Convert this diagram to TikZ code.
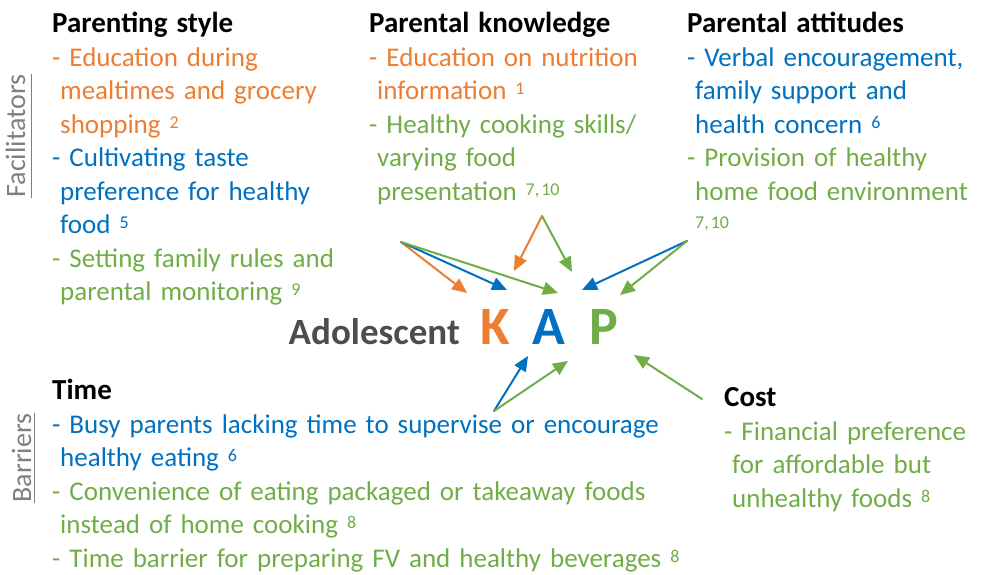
\documentclass[tikz,border=0pt]{standalone}
\usepackage{fontspec}
\setmainfont[Numbers=Lining]{Carlito}
\usetikzlibrary{arrows.meta,calc}
\usepackage{tkz-euclide}
\definecolor{KClr}{RGB}{237,125,49}
\definecolor{AClr}{RGB}{0,112,192}
\definecolor{PClr}{RGB}{112,173,71}
\definecolor{MainClr}{RGB}{77,77,77}
\definecolor{SideClr}{RGB}{127,127,127}
\newcommand\contd{\hspace*{8pt}}
\newcommand\refno[1]{\raisebox{5pt}{\fontsize{18}{18}\selectfont#1}}
\newcommand\colhead[1]{{\fontsize{29}{33.5}\selectfont\bfseries #1}}
\tikzset{
  coltext/.style={anchor=base west,align=left,inner sep=0pt,text width=#1,
    font=\fontsize{27}{33.5}\selectfont},
  sidetext/.style={rotate=90,anchor=base,inner sep=0pt,text=SideClr,
    font=\fontsize{28}{30}\selectfont},
  kap/.style={anchor=base,inner sep=0pt,font=\fontsize{54}{60}\selectfont\bfseries},
  tip/.style={line width=2pt,-{Triangle[length=15pt,width=13pt]}}
}

\begin{document}
\begin{tikzpicture}[x=1pt,y=1pt]
\useasboundingbox (0,0) rectangle (987,575);

% facilitators
\node[coltext=310pt] (style) at (52,542) {%
\colhead{Parenting style}\\
\color{KClr}- Education during\\
\contd mealtimes and grocery\\
\contd shopping \refno{2}\\
\color{AClr}- Cultivating taste\\
\contd preference for healthy\\
\contd food \refno{5}\\
\color{PClr}- Setting family rules and\\
\contd parental monitoring \refno{9}};

\node[coltext=310pt] (know) at (369,542) {%
\colhead{Parental knowledge}\\
\color{KClr}- Education on nutrition\\
\contd information \refno{1}\\
\color{PClr}- Healthy cooking skills/\\
\contd varying food\\
\contd presentation \refno{7,\kern2pt10}};

\node[coltext=310pt] (att) at (687,542) {%
\colhead{Parental attitudes}\\
\color{AClr}- Verbal encouragement,\\
\contd family support and\\
\contd health concern \refno{6}\\
\color{PClr}- Provision of healthy\\
\contd home food environment\\
\contd\refno{7,\kern2pt10}};

% barriers
\node[coltext=680pt] (time) at (52,175) {%
\colhead{Time}\\
\color{AClr}- Busy parents lacking time to supervise or encourage\\
\contd healthy eating \refno{6}\\
\color{PClr}- Convenience of eating packaged or takeaway foods\\
\contd instead of home cooking \refno{8}\\
- Time barrier for preparing FV and healthy beverages \refno{8}};

\node[coltext=270pt] (cost) at (724,168) {%
\colhead{Cost}\\
\color{PClr}- Financial preference\\
\contd for affordable but\\
\contd unhealthy foods \refno{8}};

\node[sidetext] (fac) at (25,439) {Facilitators};
\node[sidetext] (bar) at (31,117) {Barriers};
\draw[SideClr,line width=1pt] ([xshift=6pt]fac.base west) -- ([xshift=6pt]fac.base east);
\draw[SideClr,line width=1pt] ([xshift=3pt]bar.base west) -- ([xshift=3pt]bar.base east);

% adolescent KAP
\node[anchor=base east,inner sep=0pt,text=MainClr,
  font=\fontsize{37}{40}\selectfont\bfseries] (adol) at (460,230) {Adolescent};
\node[kap,text=KClr] (K) at (495,230) {K};
\node[kap,text=AClr] (A) at (549,230) {A};
\node[kap,text=PClr] (P) at (604,230) {P};

\tkzDefPoints{401/333/Sty,542/359/Kno,687/334/Att,494/164/Tim,702/176/Cst}
\tkzDefPoints{467/282/Ka,514/304/Kb,507/285/Aa,582/285/Ab,528/219/Ac}
\tkzDefPoints{558/282/Pa,572/303/Pb,620/280/Pc,568/214/Pd,634/220/Pe}

\tkzDrawSegments[tip,KClr](Sty,Ka Kno,Kb)
\tkzDrawSegments[tip,AClr](Sty,Aa Att,Ab Tim,Ac)
\tkzDrawSegments[tip,PClr](Sty,Pa Kno,Pb Att,Pc Tim,Pd Cst,Pe)

\end{tikzpicture}
\end{document}
